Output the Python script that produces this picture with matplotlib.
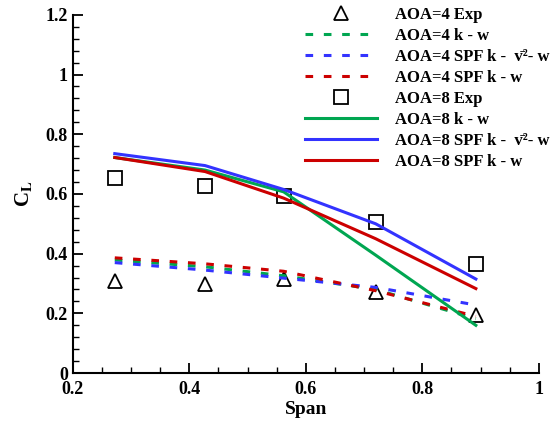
import matplotlib
matplotlib.use("Agg")
import matplotlib.pyplot as plt
from matplotlib.ticker import MultipleLocator

plt.rcParams['font.family'] = ['Liberation Serif', 'DejaVu Serif']
plt.rcParams['font.weight'] = 'bold'
plt.rcParams['mathtext.fontset'] = 'stix'

# span stations
span = [0.272, 0.427, 0.562, 0.72, 0.892]

# experiment
exp4 = [0.31, 0.30, 0.315, 0.27, 0.195]
exp8 = [0.655, 0.625, 0.593, 0.505, 0.365]

# AOA=4 computations
kw4 = [0.379, 0.356, 0.326, 0.28, 0.182]
spf_v2_4 = [0.370, 0.345, 0.318, 0.287, 0.228]
spf_kw4 = [0.386, 0.366, 0.341, 0.276, 0.19]

# AOA=8 computations
kw8 = [0.722, 0.68, 0.607, 0.395, 0.16]
spf_v2_8 = [0.735, 0.695, 0.615, 0.50, 0.315]
spf_kw8 = [0.722, 0.675, 0.586, 0.45, 0.283]

green = '#00a651'
blue = '#3333ff'
red = '#cc0000'
v2 = 'v\u0304\u00b2'

fig = plt.figure(figsize=(5.56, 4.23), dpi=100)
ax = fig.add_axes([0.131, 0.118, 0.838, 0.847])

lw = 2.2
ds = (0, (2.5, 3.5))
ax.plot(span, exp4, linestyle='none', marker='^', ms=10, mfc='none', mec='k', mew=1.3, label='AOA=4 Exp')
ax.plot(span, kw4, color=green, lw=lw, linestyle=ds, label='AOA=4 k - w')
ax.plot(span, spf_v2_4, color=blue, lw=lw, linestyle=ds, label='AOA=4 SPF k -  ' + v2 + '- w')
ax.plot(span, spf_kw4, color=red, lw=lw, linestyle=ds, label='AOA=4 SPF k - w')
ax.plot(span, exp8, linestyle='none', marker='s', ms=10, mfc='none', mec='k', mew=1.3, label='AOA=8 Exp')
ax.plot(span, kw8, color=green, lw=lw, label='AOA=8 k - w')
ax.plot(span, spf_v2_8, color=blue, lw=lw, label='AOA=8 SPF k -  ' + v2 + '- w')
ax.plot(span, spf_kw8, color=red, lw=lw, label='AOA=8 SPF k - w')

ax.set_xlim(0.2, 1.0)
ax.set_ylim(0, 1.2)
ax.xaxis.set_minor_locator(MultipleLocator(0.05))
ax.yaxis.set_minor_locator(MultipleLocator(0.04))
ax.set_xticks([0.2, 0.4, 0.6, 0.8, 1.0], ['0.2', '0.4', '0.6', '0.8', '1'])
ax.set_yticks([0, 0.2, 0.4, 0.6, 0.8, 1.0, 1.2], ['0', '0.2', '0.4', '0.6', '0.8', '1', '1.2'])

for s in ['top', 'right']:
    ax.spines[s].set_visible(False)
for s in ['left', 'bottom']:
    ax.spines[s].set_linewidth(1.5)
ax.tick_params(which='major', direction='in', length=7, width=1.3, labelsize=13)
ax.tick_params(axis='x', which='major', pad=6)
ax.tick_params(which='minor', direction='in', length=4, width=1.0)

ax.set_xlabel('Span', fontsize=14, fontweight='bold', labelpad=2)
ax.set_ylabel(r'C$_\mathbf{L}$', fontsize=15, fontweight='bold', labelpad=8)

ax.legend(loc='upper right', bbox_to_anchor=(1.055, 1.065), frameon=False,
          handlelength=4.3, labelspacing=0.3, handletextpad=1.1,
          prop={'weight': 'bold', 'size': 12})

fig.savefig('out.png', dpi=100)
